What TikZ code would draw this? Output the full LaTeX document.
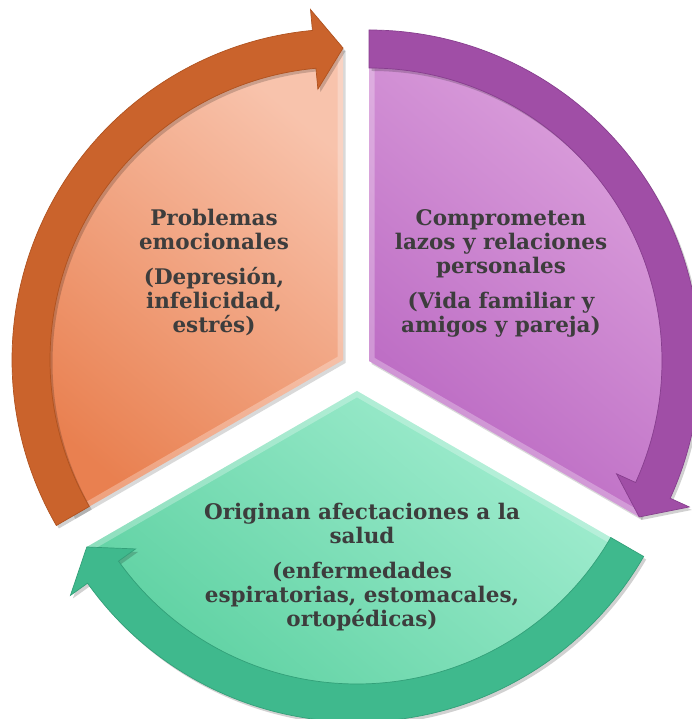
\documentclass[tikz,border=0pt]{standalone}
\usepackage{fontspec}
\setmainfont{DejaVu Serif}
\definecolor{orLight}{HTML}{F8C3AC}
\definecolor{orDark}{HTML}{E98050}
\definecolor{orBand}{HTML}{CA632C}
\definecolor{orEdge}{HTML}{B0521F}
\definecolor{puLight}{HTML}{DFA6DF}
\definecolor{puDark}{HTML}{BA68C2}
\definecolor{puBand}{HTML}{A04EA6}
\definecolor{puEdge}{HTML}{873E8E}
\definecolor{grLight}{HTML}{A2EDD0}
\definecolor{grDark}{HTML}{58CF9E}
\definecolor{grBand}{HTML}{3FB98D}
\definecolor{grEdge}{HTML}{33A079}
\definecolor{textgray}{HTML}{3D3D3D}
\newcommand\cyclearrow[5]{%
  \fill[black,opacity=0.18,shift={(2.5,-3)}] (#2:331) arc[start angle=#2,end angle=#3,radius=331] -- (#3:352) -- (#4:312) -- (#3:272) -- (#3:293) arc[start angle=#3,end angle=#2,radius=293] -- cycle;
  \filldraw[fill=#1,draw=#5,line width=0.7] (#2:331) arc[start angle=#2,end angle=#3,radius=331] -- (#3:352) -- (#4:312) -- (#3:272) -- (#3:293) arc[start angle=#3,end angle=#2,radius=293] -- cycle;}
\newcommand\sectorfill[4]{%
  \fill[black,opacity=0.15,shift={(2.5,-3)}] (0,0) -- (#1:312) arc[start angle=#1,end angle=#2,radius=312] -- cycle;
  \path[shade,top color=#3,bottom color=#4,shading angle=-40] (0,0) -- (#1:312) arc[start angle=#1,end angle=#2,radius=312] -- cycle;
  \begin{scope}
    \clip (0,0) -- (#1:312) arc[start angle=#1,end angle=#2,radius=312] -- cycle;
    \draw[white,opacity=0.28,line width=11] (0,0) -- (#1:312) arc[start angle=#1,end angle=#2,radius=312] -- cycle;
  \end{scope}}
\begin{document}
\begin{tikzpicture}[x=1pt,y=1pt,
  txt/.style={font=\fontsize{21.5}{24}\selectfont\bfseries,text=textgray,align=center,inner sep=0pt}]
\useasboundingbox (0,0) rectangle (691,719);
\fill[white] (0,0) rectangle (691,719);
\coordinate (O) at (343,359);
\coordinate (P) at (369,358);
\coordinate (G) at (357,328);
% sectors
\begin{scope}[shift={(O)}]
  \sectorfill{90}{210}{orLight}{orDark}
\end{scope}
\begin{scope}[shift={(P)}]
  \sectorfill{-30}{90}{puLight}{puDark}
\end{scope}
\begin{scope}[shift={(G)}]
  \sectorfill{210}{330}{grLight}{grDark}
\end{scope}
% arrows
\begin{scope}[shift={(O)}]
  \cyclearrow{orBand}{210}{95.3}{90}{orEdge}
\end{scope}
\begin{scope}[shift={(P)}]
  \cyclearrow{puBand}{90}{-24.5}{-30}{puEdge}
\end{scope}
\begin{scope}[shift={(G)}]
  \cyclearrow{grBand}{330}{215.5}{210}{grEdge}
\end{scope}
% texts
\node[txt] (t1) at (214,446.5) {Problemas\\emocionales\\[11pt](Depresión,\\infelicidad,\\estrés)};
\node[txt] (t2) at (501,446) {Comprometen\\lazos y relaciones\\personales\\[11pt](Vida familiar y\\amigos y pareja)};
\node[txt] (t3) at (362,151.5) {Originan afectaciones a la\\salud\\[11pt](enfermedades\\espiratorias, estomacales,\\ortopédicas)};
\end{tikzpicture}
\end{document}
